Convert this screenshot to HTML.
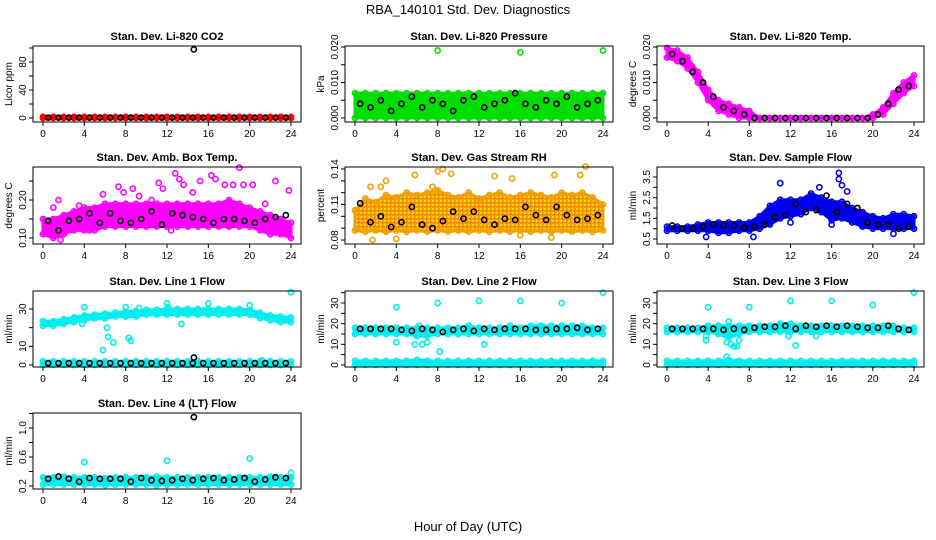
<!DOCTYPE html>
<html><head><meta charset="utf-8"><style>
body{margin:0;background:#fff;}
svg{display:block;font-family:"Liberation Sans",sans-serif;}
</style></head><body>
<svg id="chart" width="936" height="540" viewBox="0 0 936 540" xmlns="http://www.w3.org/2000/svg">
<defs>
<pattern id="rhpat" width="4" height="4" patternUnits="userSpaceOnUse"><rect width="4" height="4" fill="#f0a000"/><rect x="0" y="0" width="2" height="2" fill="#ffd000"/><rect x="2" y="2" width="1" height="1" fill="#e04000"/></pattern>
</defs>
<text x="468" y="14" text-anchor="middle" font-size="13">RBA_140101  Std. Dev. Diagnostics</text>
<text x="468" y="531" text-anchor="middle" font-size="13">Hour of Day (UTC)</text>
</svg>
<script>
const HOURS=[0,1,2,3,4,5,6,7,8,9,10,11,12,13,14,15,16,17,18,19,20,21,22,23,24];
const BLACK_X=[0.5,1.5,2.5,3.5,4.5,5.5,6.5,7.5,8.5,9.5,10.5,11.5,12.5,13.5,14.5,15.5,16.5,17.5,18.5,19.5,20.5,21.5,22.5,23.5];
const X_TICKS=[0,4,8,12,16,20,24];

const co2BandLo=[0,0,0,0,0,0,0,0,0,0,0,0,0,0,0,0,0,0,0,0,0,0,0,0,0];
const co2BandHi=[1.5,1.5,1.5,1.5,1.5,1.5,1.5,1.5,1.5,1.5,1.5,1.5,1.5,1.5,1.5,1.5,1.5,1.5,1.5,1.5,1.5,1.5,1.5,1.5,1.5];
const co2Black=[0.5,0.5,0.5,0.5,0.5,0.5,0.5,0.5,0.5,0.5,0.5,0.5,0.5,0.5,0.5,0.5,0.5,0.5,0.5,0.5,0.5,0.5,0.5,0.5];
const co2Outliers=[[14.6,98]];

const presBandLo=[0,0,0,0,0,0,0,0,0,0,0,0,0,0,0,0,0,0,0,0,0,0,0,0,0];
const presBandHi=[0.007,0.007,0.007,0.007,0.007,0.007,0.007,0.007,0.007,0.007,0.007,0.007,0.007,0.007,0.007,0.007,0.007,0.007,0.007,0.007,0.007,0.007,0.007,0.007,0.007];
const presBlack=[0.004,0.003,0.005,0.002,0.004,0.006,0.003,0.005,0.004,0.002,0.005,0.006,0.003,0.004,0.005,0.007,0.004,0.003,0.005,0.004,0.006,0.003,0.004,0.005];
const presOutliers=[[8,0.019],[16,0.0185],[24,0.019]];

const tempBandHi=[0.020,0.019,0.017,0.013,0.008,0.005,0.004,0.003,0.002,0,0,0,0,0,0,0,0,0,0,0,0.001,0.003,0.007,0.010,0.012];
const tempBandLo=[0.017,0.016,0.014,0.010,0.005,0.002,0.001,0,0,0,0,0,0,0,0,0,0,0,0,0,0,0.001,0.004,0.007,0.009];
const tempBlack=[0.018,0.016,0.013,0.010,0.006,0.003,0.002,0.001,0,0,0,0,0,0,0,0,0,0,0,0,0.001,0.004,0.008,0.009];
const tempOutliers=[];

const ambBandLo=[0.11,0.10,0.11,0.12,0.12,0.12,0.13,0.13,0.13,0.13,0.13,0.13,0.13,0.13,0.13,0.13,0.13,0.13,0.13,0.13,0.13,0.12,0.11,0.11,0.10];
const ambBandHi=[0.15,0.15,0.16,0.17,0.18,0.18,0.19,0.19,0.19,0.19,0.19,0.19,0.19,0.19,0.19,0.19,0.19,0.19,0.20,0.19,0.18,0.17,0.16,0.15,0.14];
const ambBlack=[0.145,0.12,0.145,0.15,0.165,0.14,0.165,0.145,0.14,0.15,0.17,0.135,0.165,0.16,0.155,0.15,0.14,0.15,0.15,0.145,0.14,0.15,0.155,0.16];
const ambOutliers=[[1,0.18],[1.5,0.20],[3.5,0.185],[5.8,0.215],[7.3,0.235],[7.8,0.22],[8.7,0.23],[9.3,0.21],[10.5,0.20],[11.2,0.245],[11.6,0.23],[12.8,0.27],[13.2,0.255],[13.6,0.24],[14.5,0.22],[15.2,0.25],[16.3,0.265],[16.7,0.255],[17.6,0.24],[18.4,0.24],[19,0.285],[19.4,0.24],[20.3,0.24],[21.5,0.19],[22.5,0.25],[23.8,0.225],[1.7,0.095],[4.5,0.12],[12.4,0.12]];

const rhBandLo=[0.088,0.087,0.088,0.087,0.088,0.087,0.088,0.087,0.088,0.087,0.088,0.087,0.088,0.087,0.088,0.087,0.088,0.087,0.088,0.087,0.088,0.087,0.088,0.087,0.088];
const rhBandHi=[0.105,0.115,0.112,0.118,0.116,0.12,0.118,0.12,0.122,0.118,0.116,0.12,0.115,0.118,0.12,0.116,0.118,0.12,0.118,0.116,0.12,0.118,0.12,0.116,0.11];
const rhBlack=[0.111,0.095,0.100,0.091,0.095,0.108,0.093,0.090,0.096,0.104,0.098,0.104,0.097,0.093,0.098,0.097,0.108,0.101,0.097,0.108,0.101,0.097,0.098,0.101];
const rhOutliers=[[1.5,0.125],[2.5,0.125],[3,0.13],[5.8,0.135],[8.5,0.14],[9.3,0.136],[7.5,0.125],[13.5,0.134],[15.2,0.132],[19.3,0.135],[21.8,0.135],[22.3,0.142],[1.7,0.08],[4,0.081],[16,0.084],[19,0.082],[8,0.138]];

const flowBandLo=[0.9,0.9,0.9,0.9,0.9,0.8,0.8,0.9,0.9,1.0,1.2,1.5,1.6,1.7,2.0,1.8,1.4,1.5,1.3,1.1,1.0,1.0,1.0,1.0,1.0];
const flowBandHi=[1.1,1.1,1.1,1.2,1.3,1.3,1.3,1.3,1.3,1.6,2.1,2.4,2.4,2.4,2.7,2.5,2.3,2.3,2.0,1.8,1.6,1.5,1.7,1.7,1.6];
const flowBlack=[1.15,1.0,1.0,1.1,1.2,1.15,1.15,1.05,1.1,1.2,1.55,1.65,2.2,1.8,1.9,2.6,1.8,2.2,2.0,1.3,1.2,1.2,1.0,1.1];
const flowOutliers=[[11,3.2],[16.7,3.7],[16.7,3.4],[17,3.1],[17.5,2.8],[14.8,3.0],[3.8,0.6],[8.4,0.6],[22,0.75],[12,1.3],[16,1.2]];

const l1BandLo=[21,21,22,23,24,25,25,26,26,26,27,27,27,27,27,27,27,27,27,27,27,25,24,23,23];
const l1BandHi=[23.5,23.5,24.5,25.5,26.5,27,27.5,28,28.5,29,29.5,29.5,30,30,30,30,30,30,30,30,29.5,28,26.5,26,25.5];
const l1LowLo=[0,0,0,0,0,0,0,0,0,0,0,0,0,0,0,0,0,0,0,0,0,0,0,0,0];
const l1LowHi=[2,2,2,2,2,2,2,2,2,2,2,2,2,2,2,2,2,2,2,2,2,2,2,2,2];
const l1Black=[1,1,1,1,1,1,1,1,1,1,1,1,1,1,1,1,1,1,1,1,1,1,1,1];
const l1Outliers=[[4,31],[8,31],[9.3,30.5],[12,33],[12.1,31],[16,33],[20,32],[24,39],[5.8,8],[6.3,15],[6.8,12],[8.3,14.5],[8.5,13],[3.8,22],[6.2,20],[13.4,22],[21.2,2.5]];
const l1BlackOut=[[14.6,4]];

const l2BandLo=[15,15,15,15,15,15,14,14,15,15,15,15,15,15,15,15,15,15,15,15,15,15,15,15,15];
const l2BandHi=[18,18,18,18,18,18,18,18,18,18,18,19,18,18,18,19,18,19,19,19,19,19,19,18,18];
const l2LowLo=[0,0,0,0,0,0,0,0,0,0,0,0,0,0,0,0,0,0,0,0,0,0,0,0,0];
const l2LowHi=[2,2,2,2,2,2,2.5,2,2,2,2,2,2,2,2,2,2,2,2,2,2,2,2,2,2];
const l2Black=[17.5,17.5,17.5,17.5,17,16.5,17.5,17,16,17,17.5,16.5,17.5,17,17.5,17.5,17.5,17,17,17.5,17.5,18,17,17.5];
const l2Outliers=[[4,28],[8,30],[12,31],[16,31],[20,30],[24,35],[4,11],[8.2,6.5],[12.5,10],[5.8,10],[6.5,10],[7,11],[6.2,19]];

const l3BandLo=[16,16,16,16,16,15,13,15,16,16,16,16,16,16,16,16,16,16,16,16,16,16,16,16,16];
const l3BandHi=[18,18,18,18,19,19,19,19,19,19,19,20,20,19,19,19,19,19,19,19,19,19,19,18,18];
const l3LowLo=[0,0,0,0,0,0,0,0,0,0,0,0,0,0,0,0,0,0,0,0,0,0,0,0,0];
const l3LowHi=[2,2,2,2,2,2,2.5,2,2,2,2,2,2,2,2,2,2,2,2,2,2,2,2,2,2];
const l3Black=[17.5,17.5,17.5,17.5,17.5,17,17.5,17,18,18.5,18.5,19,17.5,19,18.5,19,18.5,19,18.5,18,18,19,17.5,17];
const l3Outliers=[[4,28],[8,28],[12,31],[16,31],[20,29],[24,35],[3.8,12],[3.8,14],[5.8,11],[6.2,10],[6.5,9],[6.8,9],[7,12],[12.5,9.5],[5.8,4],[11.8,14],[14.5,14],[6,21]];

const l4BandLo=[0.22,0.22,0.22,0.22,0.22,0.22,0.21,0.22,0.22,0.22,0.22,0.21,0.22,0.22,0.22,0.22,0.22,0.22,0.22,0.22,0.22,0.22,0.22,0.22,0.22];
const l4BandHi=[0.32,0.32,0.33,0.32,0.32,0.32,0.31,0.32,0.32,0.32,0.32,0.33,0.32,0.32,0.32,0.32,0.32,0.32,0.32,0.32,0.32,0.32,0.33,0.32,0.32];
const l4Black=[0.30,0.33,0.30,0.26,0.31,0.30,0.30,0.30,0.26,0.31,0.28,0.27,0.28,0.30,0.28,0.30,0.31,0.28,0.29,0.31,0.26,0.29,0.32,0.31];
const l4Outliers=[[4,0.53],[12,0.55],[20,0.58],[24,0.38]];
const l4BlackOut=[[14.6,1.15]];

const panels=[
 {name:'co2',title:'Stan. Dev. Li-820 CO2',ylab:'Licor ppm',box:[33,46,301,122],x0:43,x1:291,ya:[0,118],yb:[80,62],ticks:[0,20,40,60,80,100],labels:[[0,'0'],[40,'40'],[80,'80']],color:'#ff0000',bands:[[co2BandLo,co2BandHi]],black:co2Black,out:[],bout:co2Outliers},
 {name:'pressure',title:'Stan. Dev. Li-820 Pressure',ylab:'kPa',box:[345,46,613,122],x0:355,x1:603,ya:[0,118],yb:[0.02,47],ticks:[0,0.005,0.01,0.015,0.02],labels:[[0,'0.000'],[0.01,'0.010'],[0.02,'0.020']],color:'#00dd00',bands:[[presBandLo,presBandHi]],black:presBlack,out:presOutliers,bout:[]},
 {name:'temp',title:'Stan. Dev. Li-820 Temp.',ylab:'degrees C',box:[657,46,924,122],x0:667,x1:914,ya:[0,118],yb:[0.02,47],ticks:[0,0.005,0.01,0.015,0.02],labels:[[0,'0.000'],[0.01,'0.010'],[0.02,'0.020']],color:'#ff00ff',bands:[[tempBandLo,tempBandHi]],black:tempBlack,out:tempOutliers,bout:[]},
 {name:'amb-box-temp',title:'Stan. Dev. Amb. Box Temp.',ylab:'degrees C',box:[33,167,301,244],x0:43,x1:291,ya:[0.10,238],yb:[0.20,200],ticks:[0.10,0.15,0.20,0.25],labels:[[0.10,'0.10'],[0.20,'0.20']],color:'#ff00ff',bands:[[ambBandLo,ambBandHi]],black:ambBlack,out:ambOutliers,bout:[]},
 {name:'rh',title:'Stan. Dev. Gas Stream RH',ylab:'percent',box:[345,167,613,244],x0:355,x1:603,ya:[0.08,240],yb:[0.14,169],ticks:[0.08,0.09,0.10,0.11,0.12,0.13,0.14],labels:[[0.08,'0.08'],[0.11,'0.11'],[0.14,'0.14']],color:'#f0a000',fill:'url(#rhpat)',bands:[[rhBandLo,rhBandHi]],black:rhBlack,out:rhOutliers,bout:[]},
 {name:'sample-flow',title:'Stan. Dev. Sample Flow',ylab:'ml/min',box:[657,167,924,244],x0:667,x1:914,ya:[0.5,239],yb:[3.5,177],ticks:[0.5,1,1.5,2,2.5,3,3.5],labels:[[0.5,'0.5'],[1.5,'1.5'],[2.5,'2.5'],[3.5,'3.5']],color:'#0000ee',bands:[[flowBandLo,flowBandHi]],black:flowBlack,out:flowOutliers,bout:[]},
 {name:'line1-flow',title:'Stan. Dev. Line 1 Flow',ylab:'ml/min',box:[33,291,301,367],x0:43,x1:291,ya:[0,365],yb:[30,309],ticks:[0,10,20,30],labels:[[0,'0'],[10,'10'],[30,'30']],color:'#00eeee',bands:[[l1BandLo,l1BandHi],[l1LowLo,l1LowHi]],black:l1Black,out:l1Outliers,bout:l1BlackOut},
 {name:'line2-flow',title:'Stan. Dev. Line 2 Flow',ylab:'ml/min',box:[345,291,613,367],x0:355,x1:603,ya:[0,365],yb:[30,303],ticks:[0,5,10,15,20,25,30,35],labels:[[0,'0'],[10,'10'],[20,'20'],[30,'30']],color:'#00eeee',bands:[[l2BandLo,l2BandHi],[l2LowLo,l2LowHi]],black:l2Black,out:l2Outliers,bout:[]},
 {name:'line3-flow',title:'Stan. Dev. Line 3 Flow',ylab:'ml/min',box:[657,291,924,367],x0:667,x1:914,ya:[0,365],yb:[30,303],ticks:[0,5,10,15,20,25,30,35],labels:[[0,'0'],[10,'10'],[20,'20'],[30,'30']],color:'#00eeee',bands:[[l3BandLo,l3BandHi],[l3LowLo,l3LowHi]],black:l3Black,out:l3Outliers,bout:[]},
 {name:'line4-flow',title:'Stan. Dev. Line 4 (LT) Flow',ylab:'ml/min',box:[33,413,301,489],x0:43,x1:291,ya:[0.2,486],yb:[1.0,428],ticks:[0.2,0.4,0.6,0.8,1.0,1.2],labels:[[0.2,'0.2'],[0.6,'0.6'],[1.0,'1.0']],color:'#00eeee',bands:[[l4BandLo,l4BandHi]],black:l4Black,out:l4Outliers,bout:l4BlackOut}
];

const NS='http://www.w3.org/2000/svg';
const svg=document.getElementById('chart');
function mk(tag,attrs,parent){const e=document.createElementNS(NS,tag);for(const k in attrs)e.setAttribute(k,attrs[k]);(parent||svg).appendChild(e);return e;}

panels.forEach(p=>{
 const g=mk('g',{});
 
 
 const [l,t,r,b]=p.box;
 const xs=h=>p.x0+(p.x1-p.x0)*h/24;
 const ys=v=>p.ya[1]+(v-p.ya[0])*(p.yb[1]-p.ya[1])/(p.yb[0]-p.ya[0]);
 const cy=v=>Math.max(t+2,Math.min(b-2,ys(v)));
 p.bands.forEach(([lo,hi])=>{
  let pts=HOURS.map((h,i)=>xs(h)+','+cy(hi[i]));
  pts=pts.concat(HOURS.slice().reverse().map((h,j)=>{const i=HOURS.length-1-j;return xs(h)+','+cy(lo[i]);}));
  const poly=mk('polygon',{points:pts.join(' '),fill:p.fill||p.color,stroke:p.color,'stroke-width':3,'stroke-linejoin':'round'},g);
  
  
  HOURS.forEach((h,i)=>{
   [hi[i],lo[i]].forEach(v=>{
    const c=mk('circle',{cx:xs(h),cy:cy(v),r:2.6,fill:'none',stroke:p.color,'stroke-width':1.6},g);
    
    
   });
  });
 });
 p.out.forEach(([h,v])=>{
  const c=mk('circle',{cx:xs(h),cy:ys(v),r:2.6,fill:'none',stroke:p.color,'stroke-width':1.6},g);
  
  
 });
 p.black.forEach((v,i)=>{
  const c=mk('circle',{cx:xs(BLACK_X[i]),cy:ys(v),r:2.6,fill:'none',stroke:'#000','stroke-width':1.6},g);
  
  
 });
 p.bout.forEach(([h,v])=>{
  const c=mk('circle',{cx:xs(h),cy:ys(v),r:2.6,fill:'none',stroke:'#000','stroke-width':1.6},g);
  
  
 });
 const box=mk('rect',{x:l,y:t,width:r-l,height:b-t,fill:'none',stroke:'#000','stroke-width':1},g);
 
 
 const xa=mk('line',{x1:p.x0,x2:p.x1,y1:b,y2:b,stroke:'#000'},g);
 
 
 X_TICKS.forEach(h=>{
  const tk=mk('line',{x1:xs(h),x2:xs(h),y1:b,y2:b+4,stroke:'#000'},g);
  
  
  const tx=mk('text',{x:xs(h),y:b+15,'text-anchor':'middle','font-size':10},g);
  
  
  tx.textContent=h;
 });
 p.ticks.forEach(v=>{
  const tk=mk('line',{x1:l-4,x2:l,y1:ys(v),y2:ys(v),stroke:'#000'},g);
  
  
 });
 p.labels.forEach(([v,s])=>{
  const tx=mk('text',{x:0,y:0,'text-anchor':'middle','font-size':10,transform:`translate(${l-7},${ys(v)}) rotate(-90)`},g);
  
  
  tx.textContent=s;
 });
 const yl=mk('text',{x:0,y:0,'text-anchor':'middle','font-size':10,transform:`translate(${l-21},${(t+b)/2}) rotate(-90)`},g);
 
 
 yl.textContent=p.ylab;
 const ti=mk('text',{x:(l+r)/2,y:t-6,'text-anchor':'middle','font-size':11,'font-weight':'bold'},g);
 
 
 ti.textContent=p.title;
});
</script>
</body></html>
